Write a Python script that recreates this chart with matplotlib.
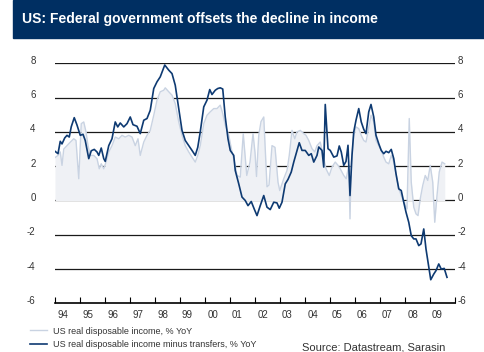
import matplotlib.pyplot as plt
from matplotlib.patches import Rectangle
from matplotlib.transforms import ScaledTranslation

# US real disposable income, % YoY (decimal year, value)
income_t = [
    1994.00, 1994.12, 1994.21, 1994.28, 1994.35, 1994.48, 1994.61, 1994.75, 1994.84, 1994.95,
    1995.05, 1995.15, 1995.24, 1995.32, 1995.41, 1995.55, 1995.68, 1995.77, 1995.85, 1995.95,
    1996.04, 1996.15, 1996.28, 1996.41, 1996.55, 1996.68, 1996.81, 1996.95, 1997.08, 1997.21,
    1997.32, 1997.41, 1997.55, 1997.68, 1997.81, 1997.95, 1998.08, 1998.21, 1998.35, 1998.41,
    1998.55, 1998.68, 1998.81, 1998.95, 1999.08, 1999.21, 1999.35, 1999.48, 1999.61, 1999.71,
    1999.81, 1999.95, 2000.08, 2000.21, 2000.35, 2000.48, 2000.61, 2000.71, 2000.81, 2000.95,
    2001.08, 2001.21, 2001.28, 2001.41, 2001.53, 2001.67, 2001.80, 2001.92, 2002.00, 2002.06,
    2002.15, 2002.24, 2002.35, 2002.48, 2002.56, 2002.68, 2002.80, 2002.92, 2002.99, 2003.15,
    2003.28, 2003.37, 2003.48, 2003.59, 2003.68, 2003.81, 2003.95, 2004.04, 2004.15, 2004.28,
    2004.39, 2004.48, 2004.61, 2004.71, 2004.84, 2004.97, 2005.08, 2005.21, 2005.32, 2005.41,
    2005.55, 2005.65, 2005.75, 2005.80, 2005.85, 2005.95, 2006.04, 2006.15, 2006.25, 2006.35,
    2006.44, 2006.64, 2006.75, 2006.84, 2006.95, 2007.05, 2007.15, 2007.24, 2007.35, 2007.45,
    2007.55, 2007.64, 2007.75, 2007.85, 2007.95, 2008.08, 2008.17, 2008.25, 2008.35, 2008.44,
    2008.52, 2008.61, 2008.71, 2008.81, 2008.91, 2009.01, 2009.11, 2009.19, 2009.28, 2009.37,
    2009.48, 2009.59,
]
income_v = [
    2.50, 2.63, 2.83, 2.05, 3.00, 3.20, 3.40, 3.60, 3.50, 1.27,
    4.48, 4.58, 4.00, 3.20, 2.63, 2.63, 2.44, 1.85, 2.14, 1.85,
    2.24, 2.83, 3.20, 3.70, 3.60, 3.80, 3.70, 3.80, 3.70, 3.20,
    3.60, 2.63, 3.41, 3.80, 4.09, 4.97, 5.85, 6.34, 6.43, 6.57,
    6.34, 6.14, 5.65, 4.58, 3.80, 3.20, 2.83, 2.53, 2.24, 2.63,
    3.20, 4.48, 4.97, 5.17, 5.36, 5.36, 5.56, 5.07, 4.39, 3.80,
    2.83, 2.05, 1.46, 1.36, 3.90, 1.46, 2.24, 3.90, 2.80, 1.40,
    3.80, 4.60, 4.87, 0.80, 0.90, 3.20, 3.10, 1.07, 0.58, 1.27,
    1.75, 2.63, 4.09, 3.60, 4.00, 4.09, 3.90, 3.80, 3.50, 3.02,
    2.83, 3.20, 3.41, 2.73, 1.85, 1.46, 1.95, 2.24, 2.05, 1.85,
    1.46, 1.27, 2.05, -1.07, 2.24, 3.80, 4.29, 4.19, 3.80, 3.50,
    3.41, 4.97, 4.58, 3.50, 3.20, 2.92, 2.53, 2.24, 2.14, 2.63,
    2.24, 1.56, 0.68, 0.29, -0.10, -0.49, 4.78, 1.07, -0.39, -0.78,
    -0.88, 0.10, 0.88, 1.46, 1.17, 2.05, 1.07, -1.27, 0.29, 1.66,
    2.24, 2.14,
]

# US real disposable income minus transfers, % YoY
ex_transfers_t = [
    1994.00, 1994.12, 1994.21, 1994.28, 1994.39, 1994.48, 1994.57, 1994.65, 1994.77, 1994.88,
    1995.01, 1995.12, 1995.21, 1995.35, 1995.45, 1995.57, 1995.68, 1995.75, 1995.85, 1995.95,
    1996.01, 1996.15, 1996.28, 1996.41, 1996.51, 1996.61, 1996.75, 1996.88, 1997.01, 1997.12,
    1997.28, 1997.41, 1997.55, 1997.68, 1997.81, 1997.95, 1998.08, 1998.21, 1998.39, 1998.55,
    1998.68, 1998.81, 1998.95, 1999.08, 1999.21, 1999.35, 1999.48, 1999.61, 1999.71, 1999.81,
    1999.95, 2000.08, 2000.19, 2000.28, 2000.41, 2000.51, 2000.61, 2000.71, 2000.81, 2000.92,
    2001.01, 2001.15, 2001.21, 2001.35, 2001.48, 2001.61, 2001.72, 2001.85, 2001.97, 2002.08,
    2002.21, 2002.35, 2002.48, 2002.61, 2002.75, 2002.88, 2002.97, 2003.08, 2003.21, 2003.32,
    2003.45, 2003.55, 2003.68, 2003.77, 2003.88, 2004.01, 2004.15, 2004.25, 2004.35, 2004.48,
    2004.55, 2004.68, 2004.75, 2004.81, 2004.92, 2005.01, 2005.15, 2005.28, 2005.37, 2005.45,
    2005.55, 2005.64, 2005.72, 2005.80, 2005.88, 2005.95, 2006.04, 2006.15, 2006.25, 2006.35,
    2006.44, 2006.55, 2006.64, 2006.75, 2006.84, 2006.95, 2007.05, 2007.15, 2007.24, 2007.35,
    2007.45, 2007.55, 2007.64, 2007.75, 2007.85, 2007.95, 2008.04, 2008.15, 2008.25, 2008.35,
    2008.44, 2008.55, 2008.64, 2008.75, 2008.84, 2008.92, 2009.03, 2009.15, 2009.24, 2009.35,
    2009.45, 2009.57, 2009.68,
]
ex_transfers_v = [
    2.87, 2.73, 3.45, 3.30, 3.65, 3.80, 3.70, 4.30, 4.83, 4.40,
    3.80, 3.86, 3.50, 2.44, 2.90, 2.98, 2.83, 2.63, 3.06, 2.44,
    2.28, 3.20, 3.60, 4.58, 4.29, 4.52, 4.29, 4.48, 4.87, 4.42,
    4.33, 3.90, 4.68, 4.78, 5.26, 6.53, 6.92, 7.21, 7.90, 7.60,
    7.40, 6.72, 5.36, 4.09, 3.50, 3.20, 2.92, 2.63, 3.10, 4.00,
    5.46, 5.85, 6.47, 6.18, 6.43, 6.53, 6.57, 6.50, 4.87, 3.60,
    2.92, 2.63, 1.75, 0.97, 0.20, 0.00, -0.30, -0.06, -0.50, -0.88,
    -0.30, 0.29, -0.39, -0.53, -0.10, -0.14, -0.45, -0.10, 0.97, 1.23,
    1.66, 2.24, 2.92, 3.37, 2.92, 2.92, 2.63, 2.73, 2.24, 2.63,
    3.12, 2.92, 1.95, 5.60, 3.02, 2.92, 2.53, 2.60, 3.18, 2.83,
    2.05, 2.28, 3.22, 0.29, 2.63, 4.00, 4.68, 5.36, 4.58, 4.15,
    3.90, 5.17, 5.60, 4.87, 3.80, 3.31, 2.92, 2.73, 2.87, 2.79,
    2.98, 2.44, 1.56, 0.68, 0.58, -0.10, -0.68, -1.27, -2.05, -2.24,
    -2.24, -2.63, -2.53, -1.66, -2.83, -3.60, -4.62, -4.29, -4.09, -3.70,
    -4.00, -3.96, -4.48,
]

years = list(range(1994, 2011))
year_labels = ["94", "95", "96", "97", "98", "99", "00", "01",
               "02", "03", "04", "05", "06", "07", "08", "09"]
y_ticks = [-6, -4, -2, 0, 2, 4, 6, 8]

NAVY = "#002f62"
DARK = "#0e3a72"
LIGHT = "#c9d3e2"
FILL = "#eff1f5"
TXT = "#333333"

plt.rcParams["font.family"] = ["Liberation Sans", "DejaVu Sans"]
plt.rcParams["axes.unicode_minus"] = False

fig = plt.figure(figsize=(4.85, 3.52), dpi=100)

# header bar
fig.patches.append(Rectangle((13 / 485, 1 - 38 / 352), 1, 38 / 352,
                             transform=fig.transFigure, color=NAVY, zorder=0))
fig.text(22 / 485, 1 - 19 / 352, "US: Federal government offsets the decline in income",
         color="white", fontsize=10, fontweight="bold", va="center", ha="left")

ax = fig.add_axes([55 / 485, 1 - 303.4 / 352, 400 / 485, 240.1 / 352])
ax.set_xlim(1994, 2010)
ax.set_ylim(-6, 8)

for v in y_ticks[1:]:
    ax.axhline(v, color="#1a1a1a", lw=0.9, zorder=1)

ax.fill_between(income_t, income_v, 0, color=FILL, lw=0, zorder=2)
l1, = ax.plot(income_t, income_v, color=LIGHT, lw=1.0, zorder=3)
l2, = ax.plot(ex_transfers_t, ex_transfers_v, color=DARK, lw=1.2, zorder=4)

for s in ["left", "right", "top"]:
    ax.spines[s].set_visible(False)
ax.spines["bottom"].set_color("black")
ax.spines["bottom"].set_linewidth(1.2)

ax.set_xticks(years)
ax.set_xticklabels([])
ax.set_xticks([y + 0.3 for y in years[:-1]], minor=True)
ax.set_xticklabels(year_labels, minor=True)
ax.tick_params(axis="x", which="major", direction="in", length=4, width=0.8)
ax.tick_params(axis="x", which="minor", length=0, pad=5, labelsize=7, labelcolor=TXT)

ax.set_yticks(y_ticks)
ax.tick_params(axis="y", length=0, pad=14, labelsize=7, labelcolor=TXT)

ax2 = ax.twinx()
ax2.set_ylim(ax.get_ylim())
ax2.set_yticks(y_ticks)
ax2.tick_params(axis="y", length=0, pad=2, labelsize=7, labelcolor=TXT)
for s in ax2.spines.values():
    s.set_visible(False)

# tick labels sit slightly above their gridlines
shift = ScaledTranslation(0, 3.5 / 100, fig.dpi_scale_trans)
for a in (ax, ax2):
    for lab in a.get_yticklabels():
        lab.set_transform(lab.get_transform() + shift)

fig.legend([l1, l2],
           ["US real disposable income, % YoY",
            "US real disposable income minus transfers, % YoY"],
           loc="upper left", bbox_to_anchor=(30 / 485, 1 - 326.5 / 352),
           frameon=False, fontsize=6.5, handlelength=1.9, handletextpad=0.65,
           labelspacing=0.55, borderpad=0, borderaxespad=0, labelcolor=TXT)

fig.text(302 / 485, 1 - 347 / 352, "Source: Datastream, Sarasin",
         fontsize=8, color=TXT, ha="left", va="center")

fig.savefig("out.png", dpi=100)
